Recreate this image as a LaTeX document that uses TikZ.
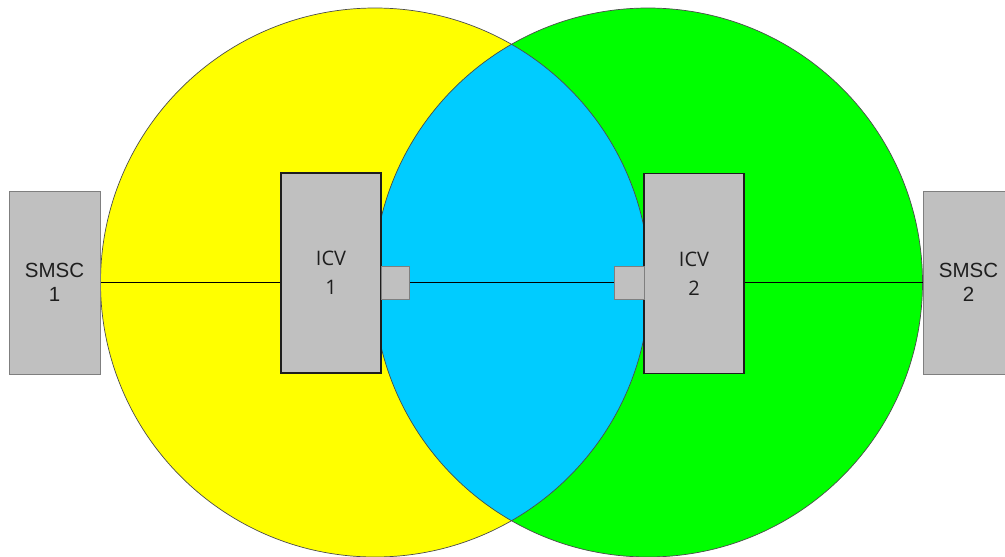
\documentclass[tikz,border=0pt]{standalone}
\usepackage{fontspec}
\setmainfont{Liberation Sans}
\newfontfamily\icvfont{Open Sans}
\usetikzlibrary{backgrounds}
\definecolor{cyellow}{HTML}{FFFF00}
\definecolor{cgreen}{HTML}{00FF00}
\definecolor{cblue}{HTML}{00CCFF}
\definecolor{boxgray}{HTML}{C0C0C0}
\definecolor{edgegray}{HTML}{7F7F7F}
\definecolor{txt}{HTML}{1E1E1E}
\begin{document}
\begin{tikzpicture}[x=1pt,y=-1pt,
  smsc/.style={draw=edgegray, fill=boxgray, line width=0.8pt, inner sep=0pt,
    minimum width=91pt, minimum height=183pt, align=center, text=txt,
    font=\fontsize{20.5}{24}\selectfont},
  icv/.style={draw=txt, fill=boxgray, line width=1.8pt, inner sep=0pt,
    minimum width=100pt, minimum height=200pt, align=center, text=txt,
    font=\icvfont\fontsize{20}{29}\selectfont},
  port/.style={draw=edgegray, fill=boxgray, line width=0.8pt, inner sep=0pt,
    minimum width=28pt, minimum height=33pt},
  ring/.style={draw=black!70, line width=0.7pt},
  link/.style={draw=black, line width=0.7pt}]
\useasboundingbox (0,0) rectangle (1005,557);
% boxes
\node[smsc] (s1) at (54.5,282.5) {SMSC\\1};
\node[smsc] (s2) at (968.5,282.5) {SMSC\\2};
\node[icv] (i1) at (331,273) {ICV\\1};
\node[icv] (i2) at (694,273.5) {ICV\\2};
\node[port] (p1) at (395,282.5) {};
\node[port, minimum width=30pt] (p2) at (629,282.5) {};
\begin{scope}[on background layer]
% circles
\fill[cyellow] (375,282.5) circle (274.5pt);
\fill[cgreen] (648,282.5) circle (274.5pt);
\begin{scope}
  \clip (375,282.5) circle (274.5pt);
  \fill[cblue] (648,282.5) circle (274.5pt);
\end{scope}
\draw[ring] (375,282.5) circle (274.5pt);
\draw[ring] (648,282.5) circle (274.5pt);
% links
\draw[link] (s1.east) -- (s1.east -| i1.west);
\draw[link] (p1.east) -- (p2.west);
\draw[link] (s2.west -| i2.east) -- (s2.west);
\end{scope}
\end{tikzpicture}
\end{document}
